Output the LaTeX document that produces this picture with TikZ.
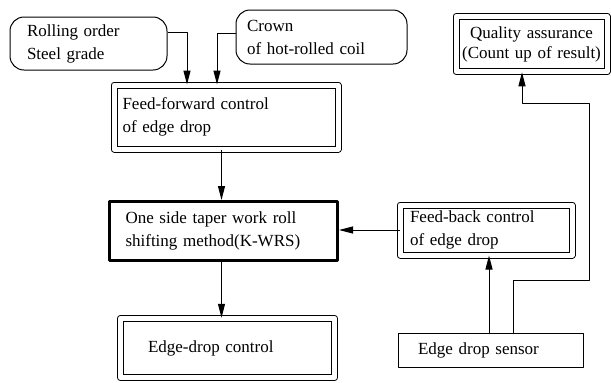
\documentclass[tikz,border=0pt]{standalone}
\usepackage{fontspec}
\setmainfont{Liberation Serif}
\usetikzlibrary{arrows.meta}

\tikzset{
	rbox/.style={draw,rounded corners=7pt,align=left,inner ysep=0pt},
	dbox/.style={draw,double,double distance=2.5pt,align=left,inner ysep=0pt},
	pbox/.style={draw,align=left,inner ysep=0pt}
}

\begin{document}
\begin{tikzpicture}[>={Triangle[length=7pt,width=3.5pt]},line join=round,line width=.5pt,font=\fontsize{8.5}{11.5}\selectfont,x=.5pt,y=-.5pt]
	\useasboundingbox (0,0) rectangle (611,382);
	\path 
	(589,280) coordinate (r1)
	(589,103) coordinate (r2);
	% inputs
	\node[rbox,minimum height=26.5pt,inner xsep=8.5pt,text width=61.5pt] (rolling) at (88.5,43.5) {Rolling order\\Steel grade};
	\node[rbox,minimum height=27pt,inner xsep=5.5pt,text width=74.5pt] (crown) at (321.5,37) {Crown\\of hot-rolled coil};
	% main chain
	\node[dbox,minimum height=32pt,inner xsep=4.25pt,text width=103.5pt] (ff) at (226,117) {Feed-forward control\\of edge drop};
	\node[pbox,line width=1.5pt,minimum height=29.5pt,inner xsep=8pt,text width=98pt] (kwrs) at (223.5,231) {One side taper work roll\\shifting method(K-WRS)};
	\node[dbox,minimum height=29.75pt,inner xsep=13.75pt,text width=79.5pt] (edc) at (227.5,348) {Edge-drop control};
	% feedback side
	\node[dbox,minimum height=25pt,inner xsep=5pt,text width=76pt] (fb) at (486,230) {Feed-back control\\of edge drop};
	\node[pbox,minimum height=17pt,inner xsep=10pt,text width=72.5pt] (sensor) at (490.5,350) {Edge drop sensor};
	\node[dbox,align=center,minimum height=27.75pt,inner xsep=2pt,text width=71.5pt,font=\fontsize{8.5}{10}\selectfont] (qa) at (531.5,44) {Quality assurance\\(Count up of result)};
	
	\draw[->] ([yshift=5.75pt]rolling.east) -| ([xshift=-19.5pt]ff.north);
	\draw[->] ([yshift=2pt]crown.west) -| ([xshift=-4.5pt]ff.north);
	\draw[->] ([xshift=-2.25pt]ff.south) -- ([xshift=-2.25pt]ff.south |- kwrs.north);
	\draw[->] ([xshift=-1pt]kwrs.south) -- ([xshift=-1pt]kwrs.south |- edc.north);
	\draw[->] (fb.west) -- (fb.west -| kwrs.east);
	\draw[->] ([xshift=-.75pt]sensor.north) -- ([xshift=-.75pt]sensor.north |- fb.south);
	\draw[->] ([xshift=11.5pt]sensor.north) |- (r1) -- (r2) -| ([xshift=-4.75pt]qa.south);
\end{tikzpicture}
\end{document}
